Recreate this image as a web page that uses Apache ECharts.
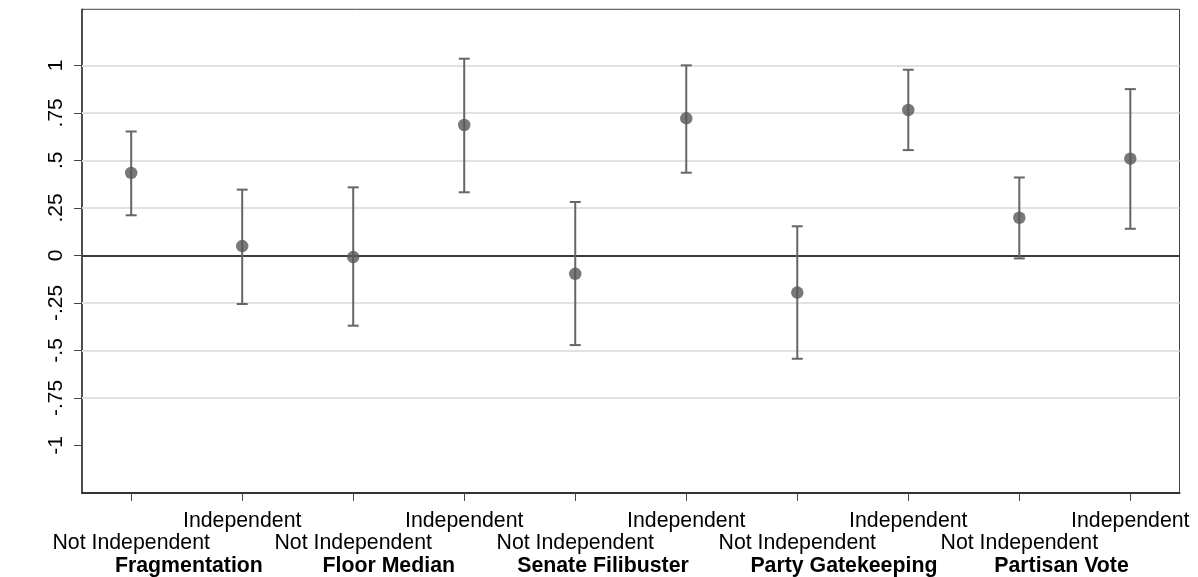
<!DOCTYPE html>
<html>
<head>
<meta charset="utf-8">
<script src="https://cdn.jsdelivr.net/npm/echarts@6/dist/echarts.min.js"></script>
<style>html,body{margin:0;padding:0;background:#fff;}#chart{width:1198px;height:577px;}</style>
</head>
<body>
<div id="chart"></div>
<script>
// ---- data ----
var positions = [1, 2, 3, 4, 5, 6, 7, 8, 9, 10];
var indepPositions = [2, 4, 6, 8, 10];
var notIndepPositions = [1, 3, 5, 7, 9];
var indepLabel = "Independent";
var notIndepLabel = "Not Independent";
var groupNames = ["Fragmentation", "Floor Median", "Senate Filibuster", "Party Gatekeeping", "Partisan Vote"];
var groupLabelPos = [1.52, 3.32, 5.25, 7.42, 9.38];
var estimates = [0.434, 0.049, -0.009, 0.686, -0.097, 0.721, -0.196, 0.765, 0.198, 0.509];
var lowerCI = [0.211, -0.256, -0.370, 0.332, -0.472, 0.435, -0.544, 0.554, -0.016, 0.140];
var upperCI = [0.652, 0.346, 0.358, 1.035, 0.281, 1.000, 0.153, 0.977, 0.410, 0.875];
var yTicks = [-1, -0.75, -0.5, -0.25, 0, 0.25, 0.5, 0.75, 1];
var yTickLabels = ["-1", "-.75", "-.5", "-.25", "0", ".25", ".5", ".75", "1"];
var gridValues = [-0.75, -0.5, -0.25, 0.25, 0.5, 0.75, 1];

var FONT = '"Liberation Sans", Arial, Helvetica, sans-serif';
var chart = echarts.init(document.getElementById('chart'), null, {renderer: 'canvas'});

var pointData = positions.map(function (p, i) { return [p, estimates[i]]; });
var ciData = positions.map(function (p, i) { return [p, lowerCI[i], upperCI[i]]; });

function nearestIndex(arr, v) {
  var best = 0;
  for (var i = 1; i < arr.length; i++) if (Math.abs(arr[i] - v) < Math.abs(arr[best] - v)) best = i;
  return best;
}
var XMIN = 0.557, XMAX = 10.443;
function labelAxis(values, text, margin, bold) {
  return {
    type: 'value', min: XMIN, max: XMAX, position: 'bottom',
    axisLine: {show: false}, axisTick: {show: false}, splitLine: {show: false},
    axisLabel: {
      customValues: values, margin: margin, showMinLabel: true, showMaxLabel: true, hideOverlap: false,
      color: '#000', fontFamily: FONT, fontSize: 21.3, fontWeight: bold ? 'bold' : 'normal',
      formatter: typeof text === 'function' ? text : function () { return text; }
    }
  };
}

var option = {
  animation: false,
  backgroundColor: '#ffffff',
  grid: {left: 82, right: 18.5, top: 9.3, bottom: 84.1, show: true, borderColor: '#444', borderWidth: 1, backgroundColor: '#fff'},
  xAxis: [{
    type: 'value', min: XMIN, max: XMAX,
    axisLine: {show: true, onZero: false, lineStyle: {color: '#333', width: 2}},
    axisTick: {show: true, customValues: positions, length: 8, lineStyle: {color: '#444', width: 1}},
    splitLine: {show: false},
    axisLabel: {show: false}
  },
    labelAxis(indepPositions, indepLabel, 17.5, false),
    labelAxis(notIndepPositions, notIndepLabel, 40, false),
    labelAxis(groupLabelPos, function (v) { return groupNames[nearestIndex(groupLabelPos, v)]; }, 62.5, true)
  ],
  yAxis: {
    type: 'value', min: -1.25, max: 1.295,
    axisLine: {show: true, onZero: false, lineStyle: {color: '#333', width: 1.5}},
    axisTick: {show: true, customValues: yTicks, length: 8, lineStyle: {color: '#444', width: 1}},
    splitLine: {show: false},
    axisLabel: {
      customValues: yTicks, rotate: 90, margin: 15, color: '#000', fontFamily: FONT, fontSize: 21,
      showMinLabel: true, showMaxLabel: true,
      formatter: function (v) { return yTickLabels[nearestIndex(yTicks, v)]; }
    }
  },
  series: [{
    type: 'custom',
    xAxisIndex: 0, yAxisIndex: 0,
    z: 3,
    data: ciData,
    renderItem: function (params, api) {
      var x = api.value(0);
      var lo = api.coord([x, api.value(1)]);
      var hi = api.coord([x, api.value(2)]);
      var w = 5.5;
      var st = {stroke: '#666666', lineWidth: 2};
      return {
        type: 'group',
        children: [
          {type: 'line', shape: {x1: lo[0], y1: lo[1], x2: hi[0], y2: hi[1]}, style: st},
          {type: 'line', shape: {x1: lo[0] - w, y1: lo[1], x2: lo[0] + w, y2: lo[1]}, style: st},
          {type: 'line', shape: {x1: hi[0] - w, y1: hi[1], x2: hi[0] + w, y2: hi[1]}, style: st}
        ]
      };
    }
  }, {
    type: 'scatter',
    xAxisIndex: 0, yAxisIndex: 0,
    z: 4,
    symbol: 'circle', symbolSize: 12.5,
    itemStyle: {color: '#575757'},
    data: pointData,
    markLine: {
      silent: true, symbol: ['none', 'none'], label: {show: false}, animation: false,
      data: gridValues.map(function (v) { return {yAxis: v, lineStyle: {color: '#e2e2e2', width: 2, type: 'solid'}}; })
        .concat([{yAxis: 0, lineStyle: {color: '#3c3c3c', width: 2, type: 'solid'}}]),
      z: 1
    }
  }]
};
chart.setOption(option);
</script>
</body>
</html>
